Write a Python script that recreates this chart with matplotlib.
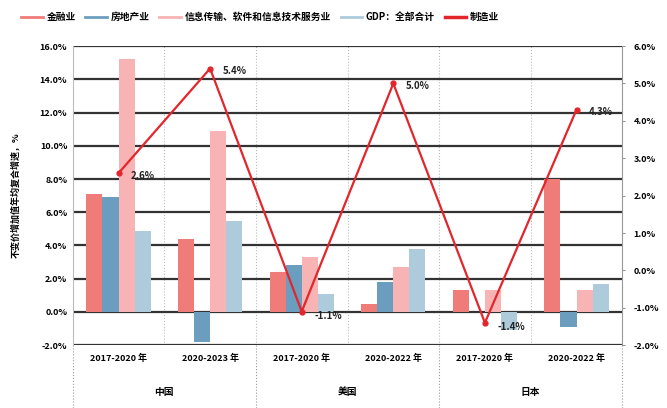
import matplotlib
matplotlib.use("Agg")
import matplotlib.pyplot as plt
from matplotlib.lines import Line2D
import numpy as np

plt.rcParams['font.family'] = ['Noto Sans CJK SC', 'DejaVu Sans']

categories = ["2017-2020 年", "2020-2023 年", "2017-2020 年", "2020-2022 年", "2017-2020 年", "2020-2022 年"]
countries = ["中国", "美国", "日本"]
series_names = ["金融业", "房地产业", "信息传输、软件和信息技术服务业", "GDP：全部合计"]
finance = [7.1, 4.4, 2.4, 0.5, 1.3, 8.0]
real_estate = [6.9, -1.8, 2.8, 1.8, 0.0, -0.9]
info_tech = [15.2, 10.9, 3.3, 2.7, 1.3, 1.3]
gdp_total = [4.9, 5.5, 1.1, 3.8, -1.1, 1.7]
manufacturing = [2.6, 5.4, -1.1, 5.0, -1.4, 4.3]
line_name = "制造业"
left_ticks = [-2, 0, 2, 4, 6, 8, 10, 12, 14, 16]
right_ticks = [-2, -1, 0, 1, 2, 3, 4, 5, 6]
ylabel = "不变价增加值年均复合增速，%"

colors = ["#F07C7A", "#6B9EBE", "#F8B3B4", "#AECBDC"]
line_color = "#E3262C"

fig = plt.figure(figsize=(6.67, 4.08), dpi=100)
ax = fig.add_axes([0.109, 0.154, 0.824, 0.733])
ax2 = ax.twinx()

x = np.arange(len(categories))
bw = 0.175
all_series = [finance, real_estate, info_tech, gdp_total]
for i, (vals, c) in enumerate(zip(all_series, colors)):
    ax.bar(x + (i - 1.5) * bw, vals, width=bw, color=c, zorder=3)

ax.set_ylim(-2, 16)
ax.set_yticks(left_ticks)
ax.set_yticklabels([f"{t:.1f}%" for t in left_ticks], fontsize=6.5, fontweight='bold')
ax.set_xlim(-0.5, len(categories) - 0.5)
ax.set_xticks(x)
ax.set_xticklabels(categories, fontsize=6.5, fontweight='bold')
ax.tick_params(axis='x', length=0, pad=6)
ax.tick_params(axis='y', length=0, pad=4)
ax.grid(axis='y', color='#333333', linewidth=1.6, zorder=1)
for b in np.arange(0.5, len(categories) - 0.5, 1.0):
    ax.axvline(b, color='#BBBBBB', linestyle=':', linewidth=0.8, zorder=1)
for s in ['top', 'bottom']:
    ax.spines[s].set_visible(False)
ax.spines['left'].set_color('#BBBBBB')
ax.spines['right'].set_visible(False)
ax.set_ylabel(ylabel, fontsize=6.5, fontweight='bold', labelpad=14)

ax2.plot(x, manufacturing, color=line_color, linewidth=1.6, marker='o', markersize=3.5, zorder=5)
ax2.set_ylim(-2, 6)
ax2.set_yticks(right_ticks)
ax2.set_yticklabels([f"{t:.1f}%" for t in right_ticks], fontsize=6.5, fontweight='bold')
ax2.tick_params(axis='y', length=2, color='#999999', pad=6)
for s in ['top', 'bottom', 'left']:
    ax2.spines[s].set_visible(False)
ax2.spines['right'].set_color('#999999')
for xi, v in zip(x, manufacturing):
    ax2.annotate(f"{v:.1f}%", (xi, v), xytext=(9, -2 if v > 0 else -3), textcoords='offset points',
                 fontsize=7, fontweight='bold', color='#222222', va='center', ha='left', zorder=6)

# country labels and separators
trans = ax.get_xaxis_transform()
for k, name in enumerate(countries):
    ax.text(2 * k + 0.5, -0.155, name, transform=trans, ha='center', va='center',
            fontsize=7, fontweight='bold')
for b in [-0.5, 1.5, 3.5, 5.5]:
    ax.add_line(Line2D([b, b], [0, -0.24], transform=trans, color='#999999',
                       linestyle=':', linewidth=0.8, clip_on=False))

handles = [Line2D([0], [0], color=c, linewidth=2) for c in colors]
handles.append(Line2D([0], [0], color=line_color, linewidth=2.5))
fig.legend(handles, series_names + [line_name], loc='center', bbox_to_anchor=(0.39, 0.958),
           ncol=5, frameon=False, prop={'size': 7, 'weight': 'bold'}, handlelength=2.2,
           columnspacing=1.0, handletextpad=0.4)

fig.savefig("out.png", dpi=100)
